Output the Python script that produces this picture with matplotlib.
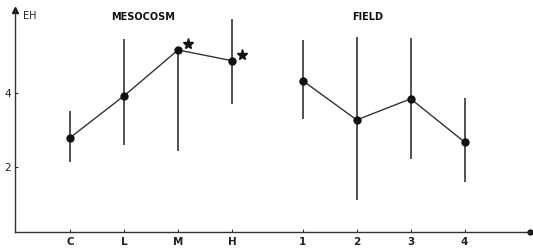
import matplotlib
matplotlib.use("Agg")
import matplotlib.pyplot as plt
import numpy as np

meso_labels = ["C", "L", "M", "H"]
meso_mean = [2.78, 3.91, 5.15, 4.86]
meso_low = [2.11, 2.58, 2.41, 3.69]
meso_high = [3.49, 5.44, 5.15, 5.99]

field_labels = ["1", "2", "3", "4"]
field_mean = [4.32, 3.26, 3.83, 2.66]
field_low = [3.29, 1.10, 2.20, 1.59]
field_high = [5.41, 5.51, 5.46, 3.86]

yticks = [2, 4]

fig = plt.figure(figsize=(5.33, 2.48), dpi=100)
ax = fig.add_axes([15/533, (248-231.7)/248, (530-15)/533, (231.7-10)/248])

xm = np.arange(1, 5)
xf = np.arange(1, 5) + 4.31

for xs, m, lo, hi in [(xm, meso_mean, meso_low, meso_high), (xf, field_mean, field_low, field_high)]:
    m = np.array(m); lo = np.array(lo); hi = np.array(hi)
    ax.vlines(xs, lo, hi, color="#222222", lw=1.1)
    ax.plot(xs, m, color="#333333", lw=1.0)
    ax.plot(xs, m, "o", color="#111111", ms=5)

# stars next to M and H
for i in [2, 3]:
    ax.plot(xm[i] + 0.19, meso_mean[i] + 0.15, marker="*", color="#111111", ms=8, ls="none")

ax.set_xlim(-0.02, 9.52)
ax.set_ylim(0.24, 6.23)
ax.spines["top"].set_visible(False)
ax.spines["right"].set_visible(False)
for s in ["left", "bottom"]:
    ax.spines[s].set_color("#333333")
    ax.spines[s].set_linewidth(1.0)

ax.set_xticks(np.concatenate([xm, xf]))
ax.set_xticklabels(meso_labels + field_labels, fontsize=7.5, fontweight="bold", color="#222222")
ax.set_yticks(yticks)
ax.set_yticklabels([str(v) for v in yticks], fontsize=7.5, color="#222222")
ax.tick_params(axis="x", direction="in", length=2, pad=4, color="#333333")
ax.tick_params(axis="y", direction="in", length=2, pad=3, color="#333333")

# arrow heads
ax.plot(1, 0, marker="o", ms=3.5, color="#111111", transform=ax.transAxes, clip_on=False)
ax.plot(0, 1, marker="^", ms=4, color="#111111", transform=ax.transAxes, clip_on=False)

fig.text(23/533, 1 - 16/248, "EH", fontsize=7, color="#222222", va="center")
fig.text(143/533, 1 - 17/248, "MESOCOSM", fontsize=7, fontweight="bold", color="#111111", ha="center", va="center")
fig.text(368/533, 1 - 17/248, "FIELD", fontsize=7, fontweight="bold", color="#111111", ha="center", va="center")

fig.savefig("out.png", dpi=100)
